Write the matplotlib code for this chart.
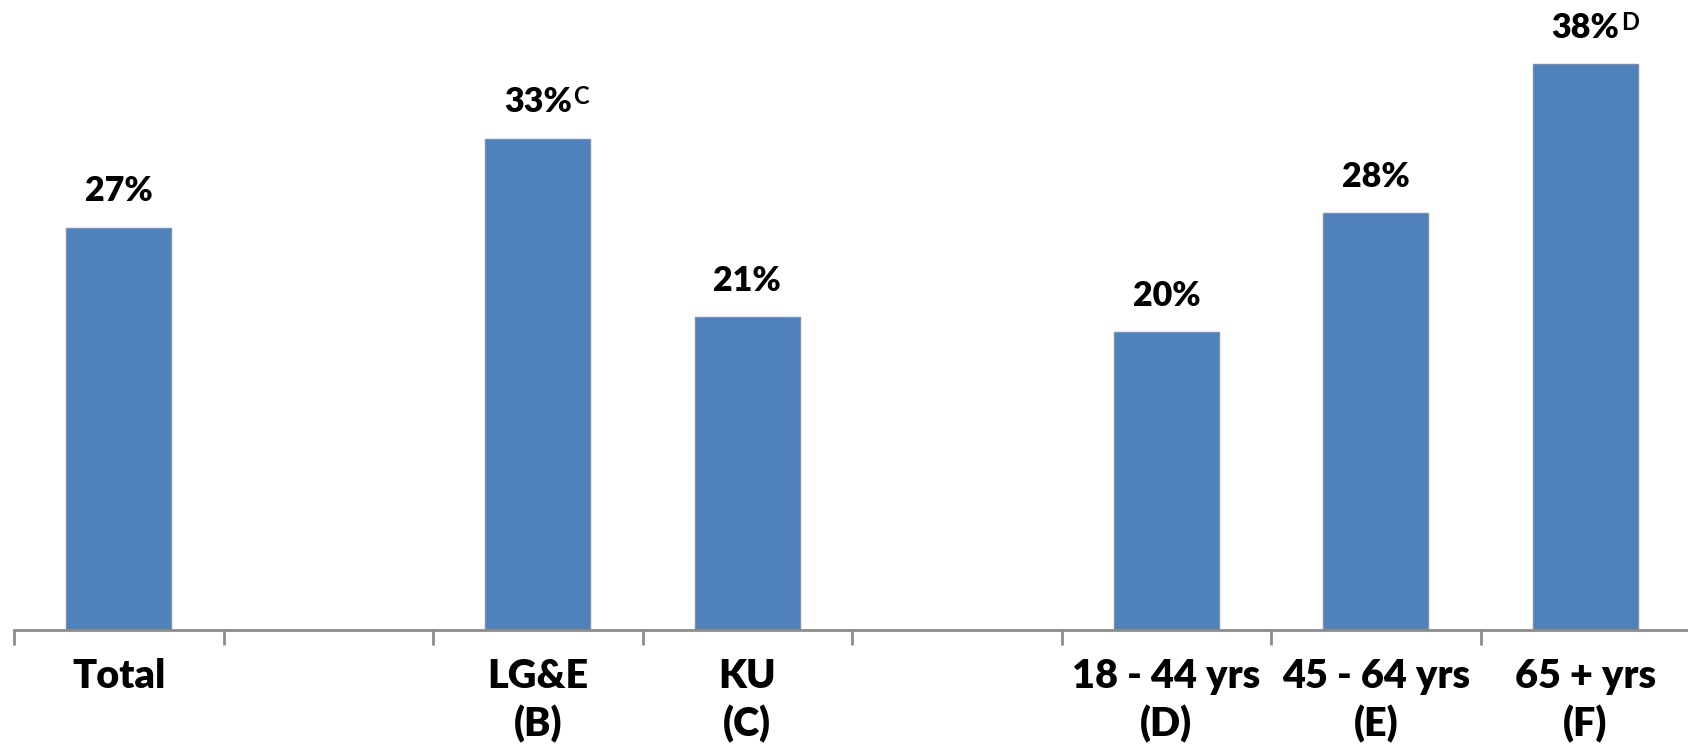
import matplotlib
matplotlib.use("Agg")
import matplotlib.pyplot as plt
import numpy as np

# survey shares by group, blank slots used as spacers between groups
categories = ["Total", "", "LG&E\n(B)", "KU\n(C)", "", "18 - 44 yrs\n(D)", "45 - 64 yrs\n(E)", "65 + yrs\n(F)"]
values = [27, None, 33, 21, None, 20, 28, 38]
sig_marks = ["", "", "C", "", "", "", "", "D"]

plt.rcParams['font.family'] = ['Lato', 'DejaVu Sans']

fig = plt.figure(figsize=(16.88, 7.5), dpi=100)
ax = fig.add_axes([14 / 1688, 120 / 750, 1 - 14 / 1688, 630 / 750])

pos = np.arange(len(categories))
bar_color = "#4F81BD"
labels = []
for i, v in enumerate(values):
    if v is None:
        continue
    ax.bar(pos[i], v, width=0.5, color=bar_color, edgecolor="#7F8FA6", linewidth=1.0)
    t = ax.annotate(f"{v}%", (pos[i], v), xytext=(0, 19), textcoords="offset points",
                    ha="center", va="baseline", fontsize=24.5, fontweight="heavy")
    labels.append((t, sig_marks[i]))

ax.set_xlim(-0.5, 7.49)
ax.set_ylim(0, 42.3)

# boundary ticks on the axis, category names centred in each slot
ax.set_xticks(np.arange(-0.5, 7.5, 1.0))
ax.set_xticklabels([])
ax.set_xticks(pos, minor=True)
ax.set_xticklabels(categories, minor=True, fontsize=28.5, fontweight="heavy", linespacing=1.32)
ax.tick_params(axis="x", which="major", direction="out", length=11, width=2, color="#8C8C8C")
ax.tick_params(axis="x", which="minor", length=0, pad=20)
ax.set_yticks([])

for s in ["left", "right", "top"]:
    ax.spines[s].set_visible(False)
ax.spines["bottom"].set_color("#8C8C8C")
ax.spines["bottom"].set_linewidth(2)

# superscript letters after the percentages, raised above the baseline
fig.canvas.draw()
r = fig.canvas.get_renderer()
for t, mark in labels:
    if not mark:
        continue
    bb = t.get_window_extent(r)
    ax.annotate(mark, t.xy, xytext=(bb.width / 2 * 72 / fig.dpi + 1, 19 + 5.5),
                textcoords="offset points", ha="left", va="baseline",
                fontsize=17, fontweight="bold")

fig.savefig("out.png", dpi=100)
